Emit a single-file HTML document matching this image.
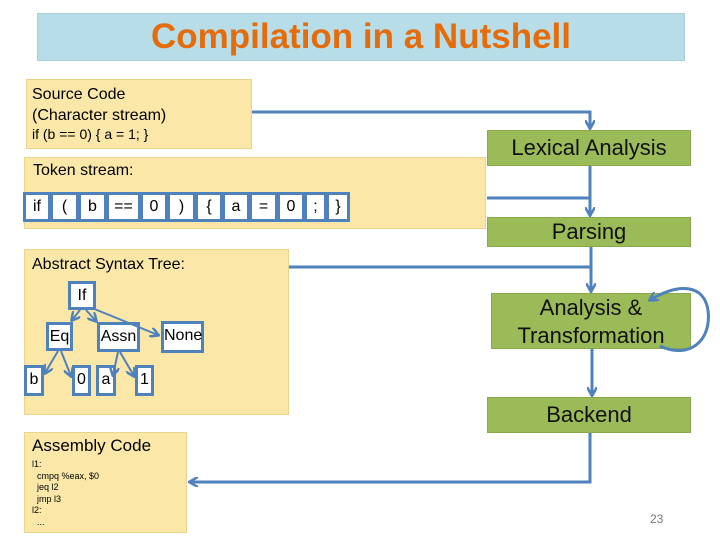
<!DOCTYPE html>
<html><head><style>
body{margin:0;width:720px;height:540px;background:#fff;position:relative;overflow:hidden;font-family:"Liberation Sans",sans-serif}
.a{position:absolute;box-sizing:border-box}
.y{background:#fbe8a8;border:1px solid #e8d48a}
.g{background:#9bbb59;border:1px solid #8aa84c;text-align:center;font-size:22px;color:#111}
.t{border:3px solid #4f81bd;background:#fff;text-align:center;font-size:16px;line-height:24px}
</style></head><body>
<div class="a" style="left:37px;top:13px;width:648px;height:48px;background:#b7dde8;border:1px solid #a8cfdc;color:#e46c0a;font-size:35px;font-weight:bold;text-align:center;line-height:46px">Compilation in a Nutshell</div>
<div class="a y" style="left:26px;top:79px;width:226px;height:70px;font-size:16px;padding:4px 0 0 5px;line-height:21px">Source Code<br>(Character stream)<div style="font-size:14px;line-height:16px">if (b == 0) { a = 1; }</div></div>
<div class="a g" style="left:487px;top:130px;width:204px;height:36px;line-height:34px">Lexical Analysis</div>
<div class="a y" style="left:24px;top:157px;width:462px;height:72px;font-size:16px;padding:4px 0 0 8px">Token stream:</div>
<div class="a g" style="left:487px;top:217px;width:204px;height:30px;line-height:28px">Parsing</div>
<div class="a y" style="left:24px;top:249px;width:265px;height:166px;font-size:16px;padding:6px 0 0 7px">Abstract Syntax Tree:</div>
<div class="a g" style="left:491px;top:293px;width:200px;height:56px;line-height:28px">Analysis &amp;<br>Transformation</div>
<div class="a g" style="left:487px;top:397px;width:204px;height:36px;line-height:34px">Backend</div>
<div class="a y" style="left:24px;top:432px;width:163px;height:101px;padding:3px 0 0 7px"><div style="font-size:17px">Assembly Code</div><div style="font-size:9px;line-height:11.5px;margin-top:3px">l1:<br>&nbsp;&nbsp;cmpq %eax, $0<br>&nbsp;&nbsp;jeq l2<br>&nbsp;&nbsp;jmp l3<br>l2:<br>&nbsp;&nbsp;...</div></div>
<div class="a" style="left:650px;top:512px;font-size:12px;color:#777">23</div>

<div class="a t" style="left:23px;top:192px;width:28px;height:30px">if</div>
<div class="a t" style="left:50px;top:192px;width:29px;height:30px">(</div>
<div class="a t" style="left:78px;top:192px;width:29px;height:30px">b</div>
<div class="a t" style="left:106px;top:192px;width:35px;height:30px">==</div>
<div class="a t" style="left:140px;top:192px;width:28px;height:30px">0</div>
<div class="a t" style="left:167px;top:192px;width:29px;height:30px">)</div>
<div class="a t" style="left:195px;top:192px;width:28px;height:30px">{</div>
<div class="a t" style="left:222px;top:192px;width:28px;height:30px">a</div>
<div class="a t" style="left:249px;top:192px;width:29px;height:30px">=</div>
<div class="a t" style="left:277px;top:192px;width:28px;height:30px">0</div>
<div class="a t" style="left:304px;top:192px;width:23px;height:30px">;</div>
<div class="a t" style="left:326px;top:192px;width:24px;height:30px">}</div>

<div class="a t" style="left:68px;top:281px;width:28px;height:29px">If</div>
<div class="a t" style="left:46px;top:322px;width:27px;height:29px">Eq</div>
<div class="a t" style="left:97px;top:322px;width:43px;height:30px">Assn</div>
<div class="a t" style="left:161px;top:321px;width:43px;height:32px">None</div>
<div class="a t" style="left:24px;top:365px;width:20px;height:31px">b</div>
<div class="a t" style="left:72px;top:365px;width:19px;height:31px">0</div>
<div class="a t" style="left:96px;top:365px;width:20px;height:31px">a</div>
<div class="a t" style="left:135px;top:365px;width:19px;height:31px">1</div>

<svg class="a" style="left:0;top:0" width="720" height="540">
<defs><marker id="m" markerWidth="10" markerHeight="10" refX="8" refY="5" orient="auto" markerUnits="userSpaceOnUse"><path d="M0,0 L9,5 L0,10" fill="none" stroke="#4f81bd" stroke-width="2.5"/></marker></defs>
<g stroke="#4f81bd" stroke-width="3" fill="none">
<path d="M252,112 H590 V128" marker-end="url(#m)"/>
<path d="M590,166 V215" marker-end="url(#m)"/>
<path d="M487,198 H590"/>
<path d="M591,247 V291" marker-end="url(#m)"/>
<path d="M289,267 H591"/>
<path d="M592,349 V395" marker-end="url(#m)"/>
<path d="M590,433 V482 H190" marker-end="url(#m)"/>
<path d="M660,346 C690,360 712,340 708,310 C704,285 680,282 650,300" marker-end="url(#m)"/>
<g stroke-width="2">
<path d="M80,310 L72,320" marker-end="url(#m)"/>
<path d="M86,310 L96,321" marker-end="url(#m)"/>
<path d="M92,308 L158,335" marker-end="url(#m)"/>
<path d="M58,351 L45,373" marker-end="url(#m)"/>
<path d="M61,351 L71,376" marker-end="url(#m)"/>
<path d="M118,352 L113,375" marker-end="url(#m)"/>
<path d="M120,352 L134,376" marker-end="url(#m)"/>
</g></g></svg>
</body></html>
